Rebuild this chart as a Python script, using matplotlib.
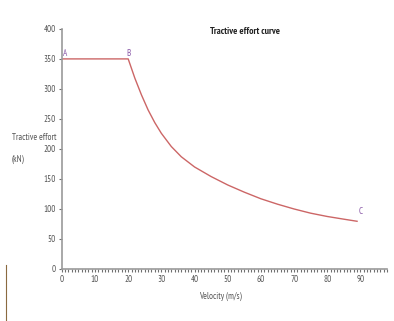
import matplotlib.pyplot as plt
from matplotlib.lines import Line2D
from matplotlib.ticker import MultipleLocator

velocity = [0, 20, 22, 24, 26, 28, 30, 33, 36, 40, 45, 50, 55, 60, 65, 70, 75, 80, 85, 89]
effort = [350, 350, 318, 290, 265, 244, 226, 204, 187, 170, 154, 140, 128, 117, 108, 100, 93, 87.5, 83, 79.5]
point_names = ['A', 'B', 'C']
point_x = [0, 20, 89]
point_y = [350, 350, 79.5]

plt.rcParams['font.family'] = ['PT Sans Narrow', 'DejaVu Sans']

fig = plt.figure(figsize=(3.94, 3.21), dpi=100)
ax = fig.add_axes([0.157, 0.162, 0.825, 0.748])

ax.plot(velocity, effort, color='#cc6666', lw=1.0)
offsets = [(1, 2), (-1, 2), (1, 5)]
for name, px, py, off in zip(point_names, point_x, point_y, offsets):
    ax.annotate(name, (px, py), xytext=off, textcoords='offset points',
                color='#8a5aa8', fontsize=6.5)

ax.set_xlim(0, 98)
ax.set_ylim(0, 400)
ax.set_xticks(range(0, 100, 10))
ax.set_yticks(range(0, 401, 50))
ax.xaxis.set_minor_locator(MultipleLocator(1))
for s in ['top', 'right']:
    ax.spines[s].set_visible(False)
for s in ['left', 'bottom']:
    ax.spines[s].set_color('#9a9a9a')
    ax.spines[s].set_linewidth(1.2)
ax.tick_params(axis='both', which='both', colors='#707070', labelsize=6.5,
               length=2.5, width=0.8, pad=2)
ax.tick_params(axis='x', which='minor', length=2, width=0.8)
for lbl in ax.get_xticklabels() + ax.get_yticklabels():
    lbl.set_color('#555555')

fig.text(0.533, 0.893, 'Tractive effort curve', fontsize=7, fontweight='bold',
         color='#222222')
fig.text(0.03, 0.565, 'Tractive effort', fontsize=6.5, color='#555555')
fig.text(0.03, 0.495, '(kN)', fontsize=6.5, color='#555555')
fig.text(0.56, 0.07, 'Velocity (m/s)', fontsize=6.5, color='#555555',
         ha='center')

fig.add_artist(Line2D([0.016, 0.016], [0.0, 0.175], transform=fig.transFigure,
                      color='#8a6a40', lw=0.8))

fig.savefig('out.png', dpi=100)
